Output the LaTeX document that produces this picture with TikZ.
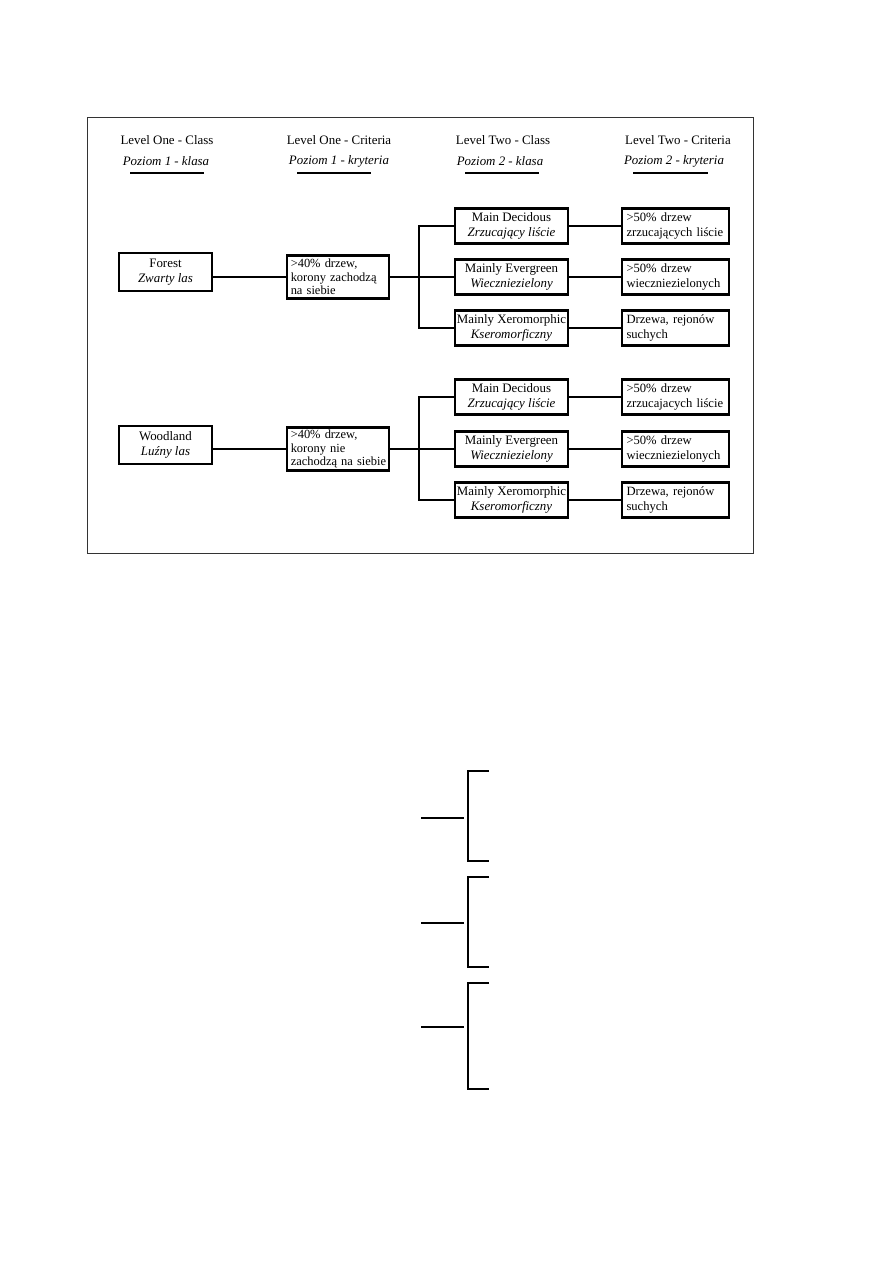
\documentclass[tikz,border=0pt]{standalone}
\usepackage{fontspec}
\setmainfont{Liberation Serif}
\newcommand\pxunit{0.6663pt}
\newcommand\nohyph{\hyphenpenalty=10000\exhyphenpenalty=10000\hbadness=10000\hfuzz=20pt\relax}
\tikzset{
  boxline/.style={draw=black, line width=1.5pt},
  classbox/.style={boxline, inner sep=0pt, align=center,
    font=\fontsize{8.6}{10}\selectfont,
    minimum width=113*\pxunit, minimum height=35*\pxunit},
  topbox/.style={boxline, inner sep=0pt, align=center,
    font=\fontsize{8.6}{10}\selectfont,
    minimum width=93*\pxunit, minimum height=38*\pxunit},
  critone/.style={boxline, inner xsep=2.5pt, inner ysep=0pt, align=left,
    font=\fontsize{8.3}{9}\selectfont\nohyph,
    text width=102*\pxunit-5pt, minimum height=43*\pxunit},
  crittwo/.style={boxline, inner xsep=3pt, inner ysep=0pt, align=left,
    font=\fontsize{8.4}{9.6}\selectfont\nohyph,
    text width=107*\pxunit-6pt, minimum height=35*\pxunit},
  conn/.style={draw=black, line width=1.35pt},
  hdr/.style={font=\fontsize{8.6}{10}\selectfont, inner sep=0pt},
  hdri/.style={font=\fontsize{8.6}{10}\selectfont\itshape, inner sep=0pt},
  uline/.style={draw=black, line width=1.7pt},
  brk/.style={draw=black, line width=0.9pt},
  frame/.style={draw=black!80, line width=0.6pt}
}
\begin{document}
\begin{tikzpicture}[x=0.6663pt, y=-0.6663pt]
\useasboundingbox (0,0) rectangle (893,1263);
\draw[frame] (87,117) rectangle (753,553);

% headers
\node[hdr]  (h1) at (167,140) {Level One - Class};
\node[hdri] (p1) at (166,161) {Poziom 1 - klasa};
\node[hdr]  (h2) at (339,140) {Level One - Criteria};
\node[hdri] (p2) at (339,161) {Poziom 1 - kryteria};
\node[hdr]  (h3) at (503,140) {Level Two - Class};
\node[hdri] (p3) at (500,161) {Poziom 2 - klasa};
\node[hdr]  (h4) at (678,140) {Level Two - Criteria};
\node[hdri] (p4) at (674,161) {Poziom 2 - kryteria};
\coordinate (u1a) at (130,173); \coordinate (u1b) at (204,173);
\coordinate (u2a) at (297,173); \coordinate (u2b) at (371,173);
\coordinate (u3a) at (465,173); \coordinate (u3b) at (539,173);
\coordinate (u4a) at (633,173); \coordinate (u4b) at (708,173);
\draw[uline] (u1a) -- (u1b);
\draw[uline] (u2a) -- (u2b);
\draw[uline] (u3a) -- (u3b);
\draw[uline] (u4a) -- (u4b);

% ---- Forest section
\node[topbox] (forest) at (165.5,272) {Forest\\\textit{Zwarty las}};
\node[critone] (c1a) at (338,277) {\mbox{>40\% drzew,}\\\mbox{korony zachodzą}\\\mbox{na siebie}};
\coordinate (j1) at (419,277);
\node[classbox] (d1) at (511.5,226) {Main Decidous\\\textit{Zrzucający liście}};
\node[classbox] (e1) at (511.5,277) {Mainly Evergreen\\\textit{Wieczniezielony}};
\node[classbox] (x1) at (511.5,328) {Mainly Xeromorphic\\\textit{Kseromorficzny}};
\node[crittwo] (kd1) at (675.5,226) {\mbox{>50\% drzew}\\\mbox{zrzucających liście}};
\node[crittwo] (ke1) at (675.5,277) {\mbox{>50\% drzew}\\\mbox{wieczniezielonych}};
\node[crittwo] (kx1) at (675.5,328) {\mbox{Drzewa, rejonów}\\\mbox{suchych}};

\draw[conn] (forest.east |- j1) -- (c1a.west |- j1);
\draw[conn] (c1a.east |- j1) -- (j1);
\draw[conn] (d1.west) -- (d1.west -| j1) -- (x1.west -| j1) -- (x1.west);
\draw[conn] (j1) -- (e1.west);
\draw[conn] (d1.east) -- (d1.east -| kd1.west);
\draw[conn] (e1.east) -- (e1.east -| ke1.west);
\draw[conn] (x1.east) -- (x1.east -| kx1.west);

% ---- Woodland section
\node[topbox] (wood) at (165.5,445) {Woodland\\\textit{Luźny las}};
\node[critone] (c1b) at (338,449) {\mbox{>40\% drzew,}\\\mbox{korony nie}\\\mbox{zachodzą na siebie}};
\coordinate (j2) at (419,449);
\node[classbox] (d2) at (511.5,397) {Main Decidous\\\textit{Zrzucający liście}};
\node[classbox] (e2) at (511.5,449) {Mainly Evergreen\\\textit{Wieczniezielony}};
\node[classbox] (x2) at (511.5,500) {Mainly Xeromorphic\\\textit{Kseromorficzny}};
\node[crittwo] (kd2) at (675.5,397) {\mbox{>50\% drzew}\\\mbox{zrzucajacych liście}};
\node[crittwo] (ke2) at (675.5,449) {\mbox{>50\% drzew}\\\mbox{wieczniezielonych}};
\node[crittwo] (kx2) at (675.5,500) {\mbox{Drzewa, rejonów}\\\mbox{suchych}};

\draw[conn] (wood.east |- j2) -- (c1b.west |- j2);
\draw[conn] (c1b.east |- j2) -- (j2);
\draw[conn] (d2.west) -- (d2.west -| j2) -- (x2.west -| j2) -- (x2.west);
\draw[conn] (j2) -- (e2.west);
\draw[conn] (d2.east) -- (d2.east -| kd2.west);
\draw[conn] (e2.east) -- (e2.east -| ke2.west);
\draw[conn] (x2.east) -- (x2.east -| kx2.west);

% ---- lower brackets
\coordinate (ba1) at (421,818); \coordinate (bb1) at (464,818);
\coordinate (bt1) at (489,771); \coordinate (bd1) at (489,861);
\draw[brk] (ba1) -- (bb1);
\draw[brk] (bt1) -- ++(-21,0) |- (bd1);

\coordinate (ba2) at (421,923); \coordinate (bb2) at (464,923);
\coordinate (bt2) at (489,877); \coordinate (bd2) at (489,967);
\draw[brk] (ba2) -- (bb2);
\draw[brk] (bt2) -- ++(-21,0) |- (bd2);

\coordinate (ba3) at (421,1027); \coordinate (bb3) at (464,1027);
\coordinate (bt3) at (489,983); \coordinate (bd3) at (489,1089);
\draw[brk] (ba3) -- (bb3);
\draw[brk] (bt3) -- ++(-21,0) |- (bd3);
\end{tikzpicture}
\end{document}
